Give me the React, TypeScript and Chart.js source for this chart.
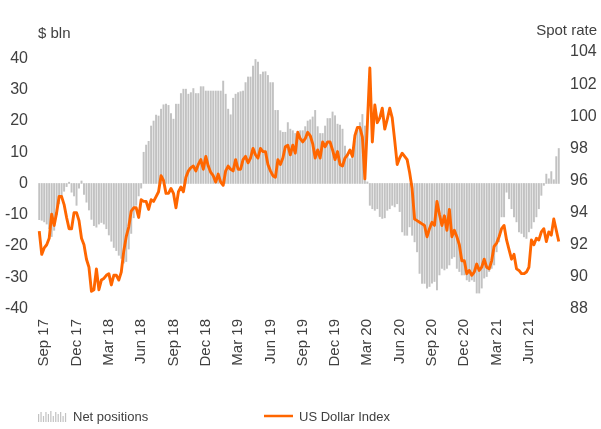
import React, { useEffect, useRef } from 'react';
import { Chart, registerables } from 'chart.js';

Chart.register(...registerables);

// Weekly CFTC net USD positions, $ bln
const netPositions: number[] = [
  -11.6, -11.8, -12.3, -13.0, -14.5, -17.0, -15.0, -10.0, -6.5, -4.0,
  -2.5, -1.0, 0.4, -2.8, -4.0, -7.0, -1.5, 0.8, -3.5, -6.0,
  -8.5, -11.5, -13.5, -14.0, -13.0, -12.5, -13.0, -14.5, -16.5, -18.5,
  -20.5, -21.5, -23.0, -24.0, -25.5, -25.0, -21.0, -16.0, -11.0, -7.0,
  -4.0, -1.5, 10.0, 12.3, 13.5, 18.4, 20.0, 21.9, 21.6, 23.8,
  25.2, 25.4, 25.0, 22.4, 20.6, 25.4, 25.4, 28.8, 30.2, 30.2,
  28.6, 29.1, 30.4, 28.8, 28.8, 31.0, 31.0, 29.6, 29.6, 29.6,
  29.6, 29.6, 29.6, 29.6, 32.8, 28.6, 23.8, 22.0, 27.3, 28.6,
  29.1, 29.4, 29.6, 32.3, 34.1, 34.1, 37.6, 39.7, 38.9, 34.9,
  35.7, 35.8, 34.6, 32.3, 32.3, 23.4, 23.4, 16.9, 16.4, 16.4,
  19.5, 17.4, 16.9, 16.0, 15.3, 16.9, 16.9, 18.2, 20.0, 20.4,
  21.3, 23.4, 18.2, 16.0, 16.0, 18.4, 20.8, 20.8, 22.9, 21.7,
  19.0, 18.7, 17.4, 12.0, 9.4, 7.9, 8.4, 13.7, 17.1, 19.5,
  22.1, 18.4, 0.5, -7.0, -8.1, -8.6, -8.1, -10.6, -11.2, -11.0,
  -8.6, -8.1, -7.0, -7.5, -6.5, -9.0, -15.5, -16.6, -16.6, -13.9,
  -16.6, -18.7, -21.9, -28.8, -32.0, -32.0, -33.5, -33.0, -31.9, -31.4,
  -34.1, -29.3, -27.2, -27.7, -27.2, -26.1, -24.0, -23.5, -27.2, -28.2,
  -29.3, -29.3, -30.9, -31.4, -30.9, -31.4, -35.1, -35.1, -33.5, -30.3,
  -29.8, -28.2, -27.2, -26.1, -21.9, -18.7, -10.7, -10.7, -2.8, -4.9,
  -8.1, -10.7, -12.3, -15.5, -16.0, -17.1, -17.6, -15.5, -14.4, -12.3,
  -10.7, -8.1, -3.8, -0.6, 3.0, 1.5, 3.8, 1.2, 8.6, 11.2,
];

// US Dollar Index, spot rate
const usdIndex: number[] = [
  92.85, 91.4, 91.8, 92.0, 92.4, 93.9, 93.2, 94.0, 95.0, 95.0,
  94.5, 93.7, 93.0, 93.0, 94.0, 94.0, 93.5, 92.4, 92.0, 91.1,
  90.6, 89.1, 89.2, 90.5, 89.2, 89.8, 89.9, 90.1, 90.2, 89.5,
  90.1, 90.1, 89.8, 90.3, 91.6, 92.5, 93.1, 94.1, 94.3, 94.3,
  93.7, 94.8, 94.7, 94.7, 94.2, 94.8, 94.7, 95.0, 95.3, 96.3,
  96.0, 95.2, 95.2, 95.5, 95.2, 94.3, 95.3, 95.6, 95.3, 96.2,
  96.6, 96.8, 96.9, 96.6, 97.0, 97.3, 96.7, 97.5, 96.9, 96.5,
  96.3, 95.9, 96.4, 95.9, 95.7, 96.6, 96.9, 96.7, 96.6, 97.3,
  96.7, 96.7, 97.3, 97.5, 97.1, 97.4, 98.0, 97.6, 97.4, 98.0,
  97.8, 97.8, 97.0, 96.6, 96.3, 96.2, 97.3, 97.0, 97.4, 98.1,
  98.2, 97.6, 98.2, 97.7, 99.0, 98.6, 98.4, 98.6, 99.0, 98.8,
  98.3, 97.4, 97.9, 97.4, 98.4, 98.1, 98.4, 98.4, 97.9, 97.3,
  97.8, 97.0, 96.9, 97.4, 97.6, 97.9, 97.5, 98.8, 99.3, 99.3,
  98.7, 96.1, 99.5, 103.0, 98.4, 100.7, 99.6, 99.9, 100.5, 99.2,
  99.8, 100.5, 99.9, 98.5, 97.0, 97.4, 97.7, 97.5, 97.3, 96.5,
  95.5, 93.6, 93.5, 93.4, 93.3, 93.2, 92.5, 93.0, 93.4, 93.2,
  94.7, 93.9, 93.2, 93.8, 92.9, 94.2, 92.5, 92.9, 92.5, 92.0,
  91.0, 91.0, 90.2, 90.4, 90.1, 90.3, 90.8, 90.4, 90.6, 91.1,
  90.6, 90.5, 91.0, 91.9, 92.1, 92.5, 93.0, 93.2, 92.3, 91.7,
  91.1, 91.4, 90.5, 90.4, 90.2, 90.2, 90.3, 90.6, 92.3, 92.0,
  92.4, 92.3, 92.8, 93.0, 92.2, 92.8, 92.6, 93.6, 92.9, 92.2,
];

const monthNames = ['Jan', 'Feb', 'Mar', 'Apr', 'May', 'Jun', 'Jul', 'Aug', 'Sep', 'Oct', 'Nov', 'Dec'];
const quarterMonths = [2, 5, 8, 11];
const firstWeek = Date.UTC(2017, 7, 22);
const WEEK = 7 * 86400000;

const weekDates = netPositions.map((_, i) => new Date(firstWeek + i * WEEK));
const categories = weekDates.map(
  (d) => `${monthNames[d.getUTCMonth()]} ${String(d.getUTCFullYear()).slice(2)}`
);
const tickLabels = weekDates.map((d, i) => {
  const m = d.getUTCMonth();
  const prev = i > 0 ? weekDates[i - 1].getUTCMonth() : -1;
  return quarterMonths.includes(m) && m !== prev ? categories[i] : '';
});

const leftTicks = [-40, -30, -20, -10, 0, 10, 20, 30, 40];
const rightTicks = [88, 90, 92, 94, 96, 98, 100, 102, 104];

const FONT = '"Liberation Sans", Arial, Helvetica, sans-serif';
const TEXT = '#404040';
const BAR = '#C2C2C2';
const LINE = '#FF6600';

const overlayPlugin = {
  id: 'overlay',
  afterDraw(chart: any) {
    const ctx: CanvasRenderingContext2D = chart.ctx;
    ctx.save();
    ctx.fillStyle = TEXT;
    ctx.textBaseline = 'middle';
    ctx.font = `15px ${FONT}`;
    ctx.textAlign = 'left';
    ctx.fillText('$ bln', 38, 34);
    ctx.textAlign = 'right';
    ctx.fillText('Spot rate', 597, 31);

    // legend
    const iconH = [8, 10, 6, 10, 8, 11, 6, 10, 8, 10, 6, 9];
    ctx.fillStyle = BAR;
    iconH.forEach((h, k) => ctx.fillRect(38 + k * 2.45, 422 - h, 1.2, h));
    ctx.fillStyle = TEXT;
    ctx.font = `13px ${FONT}`;
    ctx.textAlign = 'left';
    ctx.fillText('Net positions', 73, 417);
    ctx.strokeStyle = LINE;
    ctx.lineWidth = 2.5;
    ctx.beginPath();
    ctx.moveTo(264, 416);
    ctx.lineTo(293, 416);
    ctx.stroke();
    ctx.fillText('US Dollar Index', 299, 417);
    ctx.restore();
  },
};

export default function App() {
  const ref = useRef<HTMLCanvasElement | null>(null);
  useEffect(() => {
    document.body.style.margin = '0';
    const canvas = ref.current;
    if (!canvas) return;
    const chart = new Chart(canvas, {
      type: 'bar',
      data: {
        labels: categories,
        datasets: [
          {
            type: 'line',
            label: 'US Dollar Index',
            data: usdIndex,
            yAxisID: 'y1',
            borderColor: LINE,
            borderWidth: 2.9,
            pointRadius: 0,
            tension: 0,
            borderJoinStyle: 'round',
            order: 0,
          } as any,
          {
            type: 'bar',
            label: 'Net positions',
            data: netPositions,
            yAxisID: 'y',
            backgroundColor: BAR,
            barThickness: 1.3,
            order: 1,
          } as any,
        ],
      },
      options: {
        animation: false,
        responsive: false,
        devicePixelRatio: 1,
        layout: { padding: { top: 52, bottom: 60, left: 0, right: 0 } },
        plugins: { legend: { display: false }, tooltip: { enabled: false } },
        scales: {
          x: {
            grid: { display: false, drawTicks: false },
            border: { display: false },
            offset: true,
            ticks: {
              autoSkip: false,
              maxRotation: 90,
              minRotation: 90,
              padding: 10,
              color: TEXT,
              font: { family: FONT, size: 15 },
              callback: (_v: any, i: number) => tickLabels[i],
            },
            afterFit: (s: any) => {
              s.height = 60;
            },
          },
          y: {
            position: 'left',
            min: -40.2,
            max: 42.1,
            grid: { display: false, drawTicks: false },
            border: { display: false },
            ticks: { padding: 10, color: TEXT, font: { family: FONT, size: 16 } },
            afterBuildTicks: (s: any) => {
              s.ticks = leftTicks.map((v) => ({ value: v }));
            },
            afterFit: (s: any) => {
              s.width = 38;
            },
          },
          y1: {
            position: 'right',
            min: 88,
            max: 104,
            grid: { display: false, drawTicks: false },
            border: { display: false },
            ticks: { padding: 10, color: TEXT, font: { family: FONT, size: 16 } },
            afterBuildTicks: (s: any) => {
              s.ticks = rightTicks.map((v) => ({ value: v }));
            },
            afterFit: (s: any) => {
              s.width = 41;
            },
          },
        },
      },
      plugins: [overlayPlugin],
    });
    return () => chart.destroy();
  }, []);
  return (
    <div style={{ width: 601, height: 429, background: '#fff' }}>
      <canvas ref={ref} width={601} height={429} style={{ display: 'block' }} />
    </div>
  );
}
